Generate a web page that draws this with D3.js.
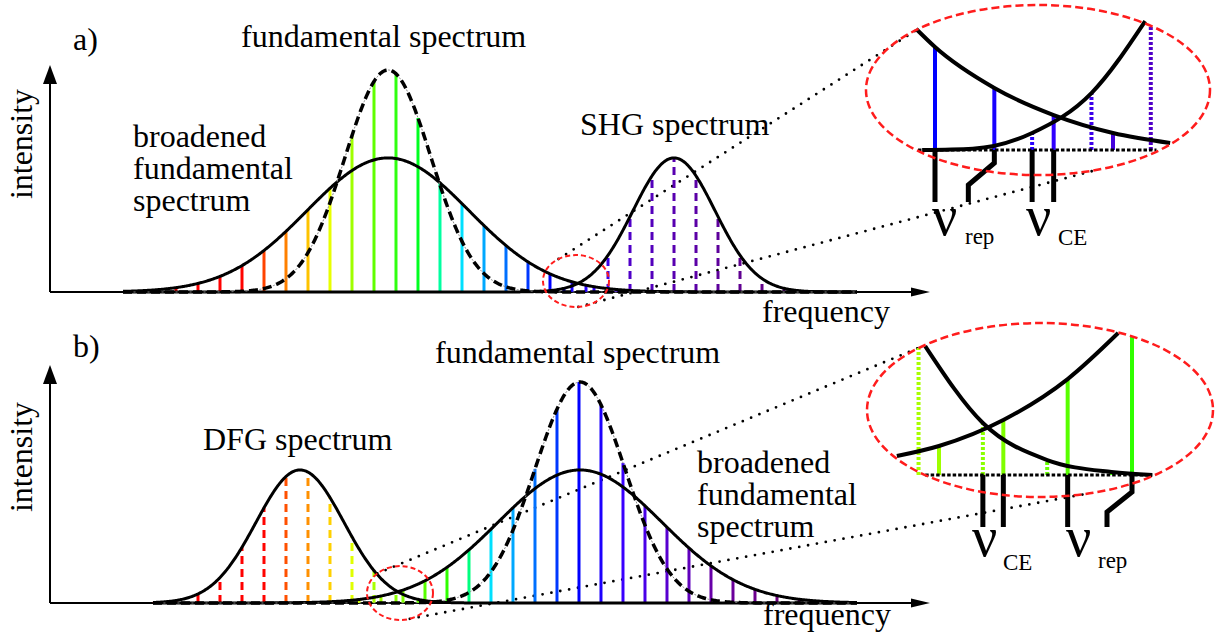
<!DOCTYPE html>
<html>
<head>
<meta charset="utf-8">
<script src="https://cdn.jsdelivr.net/npm/d3@7"></script>
<style>
  body { margin: 0; background: #fff; }
  svg { display: block; }
</style>
</head>
<body>
<script>
// Frequencies are in units of the repetition rate (comb spacing = 1),
// intensities are relative to the peak of the unbroadened fundamental.

// ---------- panel a: fundamental + SHG ----------
// envelopes: [centre frequency, peak intensity, rms width]
const fundEnvelopeA  = [15.364, 1.000, 1.955];
const broadEnvelopeA = [15.364, 0.604, 3.682];
const shgEnvelopeA   = [28.364, 0.604, 1.864];

const fundLinesA   = [3.727, 4.727, 5.727, 6.727, 7.727, 8.727, 9.727, 10.727, 11.727, 12.727, 13.727, 14.727,
                      15.727, 16.727, 17.727, 18.727, 19.727, 20.727, 21.727, 22.727, 23.727, 24.727, 25.727, 26.727];
const fundHeightsA = [0.004, 0.009, 0.020, 0.039, 0.070, 0.119, 0.187, 0.273, 0.371, 0.467, 0.704, 0.948,
                      0.983, 0.784, 0.491, 0.398, 0.299, 0.209, 0.136, 0.082, 0.046, 0.024, 0.011, 0.005];
const shgLinesA    = [22.364, 23.364, 24.364, 25.364, 26.364, 27.364, 28.364, 29.364, 30.364, 31.364, 32.364, 33.364, 34.364];
const shgHeightsA  = [0.003, 0.016, 0.060, 0.165, 0.339, 0.523, 0.604, 0.523, 0.339, 0.165, 0.060, 0.016, 0.003];

// magnified overlap region of panel a: [frequency, intensity]
const insetFundCurveA   = [[22.41, 0.931], [22.727, 0.792], [23.727, 0.477], [24.727, 0.269], [25.727, 0.131], [26.69, 0.054]];
const insetShgCurveA    = [[22.51, 0.000], [23.364, 0.010], [24.364, 0.131], [25.364, 0.438], [26.27, 0.992]];
const insetFundLinesA   = [22.727, 23.727, 24.727, 25.727];
const insetFundHeightsA = [0.792, 0.477, 0.269, 0.131];
const insetShgLinesA    = [23.364, 24.364, 25.364, 26.364];
const insetShgHeightsA  = [0.020, 0.131, 0.438, 0.960];
const repPairA = [22.727, 23.727];
const cePairA  = [24.364, 24.727];

// ---------- panel b: fundamental + DFG ----------
const fundEnvelopeB  = [24.091, 1.000, 2.045];
const broadEnvelopeB = [24.091, 0.602, 3.727];
const dfgEnvelopeB   = [11.364, 0.602, 2.000];

const fundLinesB   = [14.045, 15.045, 16.045, 17.045, 18.045, 19.045, 20.045, 21.045, 22.045, 23.045, 24.045, 25.045,
                      26.045, 27.045, 28.045, 29.045, 30.045, 31.045, 32.045, 33.045, 34.045, 35.045, 36.045];
const fundHeightsB = [0.016, 0.032, 0.059, 0.101, 0.162, 0.241, 0.334, 0.431, 0.607, 0.878, 1.000, 0.897,
                      0.634, 0.439, 0.343, 0.249, 0.168, 0.106, 0.062, 0.034, 0.017, 0.008, 0.004];
const dfgLinesB    = [4.727, 5.727, 6.727, 7.727, 8.727, 9.727, 10.727, 11.727, 12.727, 13.727, 14.727, 15.727, 16.727, 17.727];
const dfgHeightsB  = [0.002, 0.011, 0.041, 0.115, 0.252, 0.431, 0.572, 0.592, 0.477, 0.299, 0.146, 0.056, 0.016, 0.004];

const insetDfgCurveB    = [[14.83, 0.992], [15.727, 0.400], [16.727, 0.115], [17.727, 0.023], [18.36, 0.000]];
const insetFundCurveB   = [[14.39, 0.146], [15.045, 0.223], [16.045, 0.423], [17.045, 0.738], [17.83, 1.092]];
const insetFundLinesB   = [15.045, 16.045, 17.045, 18.045];
const insetFundHeightsB = [0.223, 0.423, 0.738, 1.062];
const insetDfgLinesB    = [14.727, 15.727, 16.727, 17.727];
const insetDfgHeightsB  = [0.977, 0.400, 0.115, 0.030];
const repPairB = [17.045, 18.045];
const cePairB  = [15.727, 16.045];

// ---------- styles / layout ----------
const W = 1219, H = 641;
const FONT = "'Liberation Serif', Tinos, 'Times New Roman', 'DejaVu Serif', serif";
const svg = d3.select("body").append("svg").attr("width", W).attr("height", H)
  .attr("font-family", FONT);
const X = d3.scaleLinear().domain([0, 40]).range([50, 930]);
const gauss = (f, env) => env[1] * Math.exp(-((f - env[0]) ** 2) / (2 * env[2] * env[2]));

const stopsA = [[8.68, "#ff0000"], [9.68, "#ff4000"], [10.73, "#ff8000"], [11.68, "#ffc000"], [12.73, "#e8ff00"],
                [13.73, "#a0ff00"], [14.73, "#60ff00"], [16.73, "#00ff20"], [17.73, "#00ffa0"], [18.73, "#00e0ff"],
                [20.73, "#0070ff"], [22.73, "#0000ff"], [24.73, "#3000ff"], [26.36, "#5000c8"], [28.36, "#5800b0"], [32.27, "#620088"]];
const stopsB = [[9.68, "#ff0000"], [10.73, "#ff5000"], [11.73, "#ff9000"], [12.73, "#ffd000"], [13.73, "#e0ff00"],
                [14.73, "#a8ff00"], [16.05, "#80ff00"], [18.05, "#30ff00"], [19.05, "#00ff80"], [20.05, "#00e0ff"],
                [22.05, "#0070ff"], [24.05, "#0000ff"], [26.05, "#3a00ff"], [28.05, "#5800d0"], [30.05, "#6800a8"], [33.05, "#700080"]];

const panels = [
  {
    base: 292, peak: 70, axisTop: 65, span: [3.32, 36.68], stops: stopsA,
    narrow: fundEnvelopeA, broad: broadEnvelopeA, other: shgEnvelopeA,
    solid: [fundLinesA, fundHeightsA], dashed: [shgLinesA, shgHeightsA],
    zoom: { c: [23.909, 0.0495], r: [1.5, 0.117] },
    inset: {
      xDom: [22.727, 25.727], xRange: [935, 1113], base: 150, unit: 130,
      ellipse: { c: [24.463, 0.4615], r: [2.899, 0.654] },
      falling: insetFundCurveA, rising: insetShgCurveA,
      solid: [insetFundLinesA, insetFundHeightsA], dotted: [insetShgLinesA, insetShgHeightsA],
      baseSpan: [22.44, 26.46],
      rep: repPairA, ce: cePairA, kink: [13, 35, -26]
    },
    links: [[-122, -134.5], [86, 70]],
    labels: [
      { t: ["a)"], x: 73, y: 50 },
      { t: ["fundamental spectrum"], x: 241, y: 47 },
      { t: ["broadened", "fundamental", "spectrum"], x: 133, y: 147 },
      { t: ["SHG spectrum"], x: 580, y: 135 },
      { t: ["frequency"], x: 762, y: 322 }
    ],
    intensityAt: [32, 144],
    nus: [{ sub: "rep", x: 932, y: 235, sx: 965, sy: 244 }, { sub: "CE", x: 1026, y: 235, sx: 1058, sy: 245 }]
  },
  {
    base: 603, peak: 382, axisTop: 365, span: [4.68, 36.68], stops: stopsB,
    narrow: fundEnvelopeB, broad: broadEnvelopeB, other: dfgEnvelopeB,
    solid: [fundLinesB, fundHeightsB], dashed: [dfgLinesB, dfgHeightsB],
    zoom: { c: [15.909, 0.045], r: [1.5, 0.122] },
    inset: {
      xDom: [15.045, 18.045], xRange: [939, 1132], base: 475, unit: 130,
      ellipse: { c: [16.615, 0.50], r: [2.689, 0.669] },
      falling: insetDfgCurveB, rising: insetFundCurveB,
      solid: [insetFundLinesB, insetFundHeightsB], dotted: [insetDfgLinesB, insetDfgHeightsB],
      baseSpan: [14.83, 18.36],
      rep: repPairB, ce: cePairB, kink: [17, 37, -25]
    },
    links: [[-133.5, -133.3], [72.7, 74]],
    labels: [
      { t: ["b)"], x: 73, y: 357 },
      { t: ["fundamental spectrum"], x: 435, y: 363 },
      { t: ["DFG spectrum"], x: 203, y: 450 },
      { t: ["broadened", "fundamental", "spectrum"], x: 697, y: 473 },
      { t: ["frequency"], x: 763, y: 625 }
    ],
    intensityAt: [32, 457],
    nus: [{ sub: "CE", x: 972, y: 556, sx: 1003, sy: 570 }, { sub: "rep", x: 1066, y: 556, sx: 1098, sy: 568 }]
  }
];

const RED = "#ff1c1c";

function ellipsePoint(cx, cy, rx, ry, deg) {
  const a = deg * Math.PI / 180;
  return [cx + rx * Math.cos(a), cy + ry * Math.sin(a)];
}

panels.forEach(p => {
  const g = svg.append("g");
  const Y = d3.scaleLinear().domain([0, 1]).range([p.base, p.peak]);
  const colour = d3.scaleLinear()
    .domain(p.stops.map(s => s[0])).range(p.stops.map(s => s[1]))
    .interpolate(d3.interpolateRgb).clamp(true);

  // scales of the magnified view
  const ins = p.inset;
  const IX = d3.scaleLinear().domain(ins.xDom).range(ins.xRange);
  const IY = d3.scaleLinear().domain([0, 1]).range([ins.base, ins.base - ins.unit]);

  // zoom marker on the main spectrum and the magnifying ellipse
  const zc = [X(p.zoom.c[0]), Y(p.zoom.c[1])];
  const zr = [X(p.zoom.c[0] + p.zoom.r[0]) - X(p.zoom.c[0]), Y(0) - Y(p.zoom.r[1])];
  const ec = [IX(ins.ellipse.c[0]), IY(ins.ellipse.c[1])];
  const er = [IX(ins.ellipse.c[0] + ins.ellipse.r[0]) - IX(ins.ellipse.c[0]), IY(0) - IY(ins.ellipse.r[1])];

  // dotted guide lines from the small circle to the ellipse
  p.links.forEach(([a0, a1]) => {
    const s = ellipsePoint(zc[0], zc[1], zr[0], zr[1], a0);
    const e = ellipsePoint(ec[0], ec[1], er[0], er[1], a1);
    g.append("line").attr("x1", s[0]).attr("y1", s[1]).attr("x2", e[0]).attr("y2", e[1])
      .attr("stroke", "#000").attr("stroke-width", 2.8).attr("stroke-linecap", "round")
      .attr("stroke-dasharray", "0,9");
  });

  // axes
  const ax = g.append("g").attr("stroke", "#000").attr("fill", "#000");
  ax.append("line").attr("x1", X(0)).attr("x2", X(40) - 14).attr("y1", p.base).attr("y2", p.base).attr("stroke-width", 2);
  ax.append("path").attr("stroke", "none")
    .attr("d", `M${X(40)},${p.base} L${X(40) - 19},${p.base - 4.5} L${X(40) - 19},${p.base + 4.5} Z`);
  ax.append("line").attr("x1", X(0)).attr("x2", X(0)).attr("y1", p.base).attr("y2", p.axisTop + 14).attr("stroke-width", 2);
  ax.append("path").attr("stroke", "none")
    .attr("d", `M${X(0)},${p.axisTop} L${X(0) - 7},${p.axisTop + 19} L${X(0) + 7},${p.axisTop + 19} Z`);

  // comb lines
  const solid = d3.zip(p.solid[0], p.solid[1]);
  const dashed = d3.zip(p.dashed[0], p.dashed[1]);
  g.append("g").selectAll("line").data(solid).join("line")
    .attr("x1", d => X(d[0])).attr("x2", d => X(d[0]))
    .attr("y1", Y(0)).attr("y2", d => Y(d[1]))
    .attr("stroke", d => colour(d[0])).attr("stroke-width", 3);
  g.append("g").selectAll("line").data(dashed).join("line")
    .attr("x1", d => X(d[0])).attr("x2", d => X(d[0]))
    .attr("y1", Y(0)).attr("y2", d => Y(d[1]))
    .attr("stroke", d => colour(d[0])).attr("stroke-width", 3).attr("stroke-dasharray", "8,5");

  // envelopes
  const fs = d3.range(p.span[0], p.span[1] + 1e-9, 0.04);
  const env = e => d3.line().x(f => X(f)).y(f => Y(gauss(f, e)))(fs);
  g.append("path").attr("d", env(p.broad)).attr("fill", "none").attr("stroke", "#000").attr("stroke-width", 3);
  g.append("path").attr("d", env(p.other)).attr("fill", "none").attr("stroke", "#000").attr("stroke-width", 3);
  g.append("path").attr("d", env(p.narrow)).attr("fill", "none").attr("stroke", "#8a8a8a").attr("stroke-width", 1)
    .attr("stroke-dasharray", "2,12").attr("stroke-dashoffset", 3.5);
  g.append("path").attr("d", env(p.narrow)).attr("fill", "none").attr("stroke", "#000").attr("stroke-width", 3.5)
    .attr("stroke-dasharray", "9,5");

  // small zoom circle
  g.append("ellipse").attr("cx", zc[0]).attr("cy", zc[1]).attr("rx", zr[0]).attr("ry", zr[1])
    .attr("fill", "none").attr("stroke", RED).attr("stroke-width", 2).attr("stroke-dasharray", "5,3");

  // ----- magnified view -----
  const ig = g.append("g");
  const iline = d3.line().x(d => IX(d[0])).y(d => IY(d[1])).curve(d3.curveMonotoneX);

  ig.append("g").selectAll("line").data(d3.zip(ins.dotted[0], ins.dotted[1])).join("line")
    .attr("x1", d => IX(d[0])).attr("x2", d => IX(d[0]))
    .attr("y1", IY(0)).attr("y2", d => IY(d[1]))
    .attr("stroke", d => colour(d[0])).attr("stroke-width", 4).attr("stroke-dasharray", "3,2");
  ig.append("g").selectAll("line").data(d3.zip(ins.solid[0], ins.solid[1])).join("line")
    .attr("x1", d => IX(d[0])).attr("x2", d => IX(d[0]))
    .attr("y1", IY(0)).attr("y2", d => IY(d[1]))
    .attr("stroke", d => colour(d[0])).attr("stroke-width", 4);

  // baseline of the magnified view
  ig.append("line").attr("x1", IX(ins.baseSpan[0])).attr("x2", IX(ins.baseSpan[1]))
    .attr("y1", IY(0)).attr("y2", IY(0))
    .attr("stroke", "#000").attr("stroke-width", 3).attr("stroke-dasharray", "3.5,2");

  ig.append("path").attr("d", iline(ins.falling)).attr("fill", "none").attr("stroke", "#000").attr("stroke-width", 4);
  ig.append("path").attr("d", iline(ins.rising)).attr("fill", "none").attr("stroke", "#000").attr("stroke-width", 4);

  // ν_rep / ν_CE markers below the baseline
  const drop = 52;
  const mk = ig.append("g").attr("fill", "none").attr("stroke", "#000").attr("stroke-width", 5)
    .attr("stroke-linejoin", "miter");
  const b0 = IY(0);
  [ins.rep, ins.ce].forEach((pair, k) => {
    pair.forEach((f, j) => {
      const x = IX(f);
      if (k === 0 && j === 1) {
        const [k1, k2, dx] = ins.kink;
        mk.append("path").attr("d", `M${x},${b0} V${b0 + k1} L${x + dx},${b0 + k2} V${b0 + drop}`);
      } else {
        mk.append("line").attr("x1", x).attr("x2", x).attr("y1", b0).attr("y2", b0 + drop);
      }
    });
  });

  // magnifying ellipse
  ig.append("ellipse").attr("cx", ec[0]).attr("cy", ec[1]).attr("rx", er[0]).attr("ry", er[1])
    .attr("fill", "none").attr("stroke", RED).attr("stroke-width", 2.5).attr("stroke-dasharray", "8,4");

  // text
  p.labels.forEach(l => {
    const t = g.append("text").attr("x", l.x).attr("y", l.y).attr("font-size", 32).attr("fill", "#000");
    l.t.forEach((line, i) => {
      t.append("tspan").attr("x", l.x).attr("dy", i === 0 ? 0 : 32).text(line);
    });
  });
  g.append("text").attr("transform", `translate(${p.intensityAt[0]},${p.intensityAt[1]}) rotate(-90)`)
    .attr("text-anchor", "middle").attr("font-size", 32).attr("fill", "#000").text("intensity");
  p.nus.forEach(n => {
    g.append("text").attr("x", n.x).attr("y", n.y).attr("font-size", 56).attr("fill", "#000").text("ν");
    g.append("text").attr("x", n.sx).attr("y", n.sy).attr("font-size", 23).attr("fill", "#000").text(n.sub);
  });
});
</script>
</body>
</html>
